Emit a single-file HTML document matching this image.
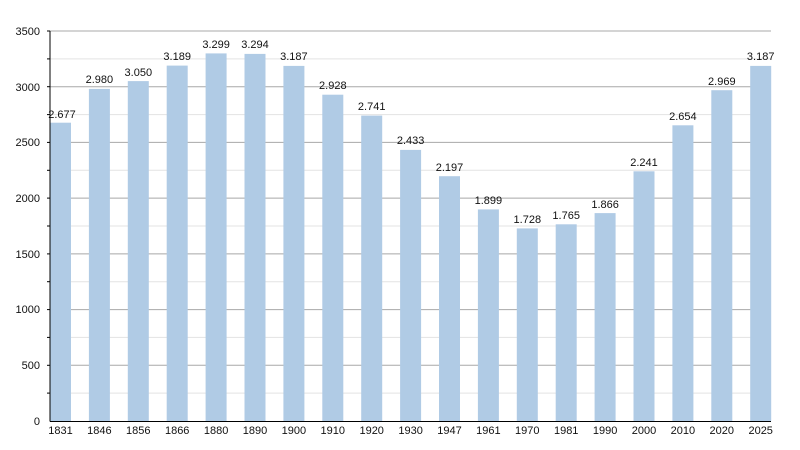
<!DOCTYPE html><html><head><meta charset="utf-8"><style>body{margin:0;background:#fff}svg{display:block}text{font-family:"Liberation Sans",sans-serif;font-size:11px;fill:#111}</style></head><body>
<svg width="800" height="450" viewBox="0 0 800 450">
<g stroke="#e3e3e3" stroke-width="1">
<line x1="50" x2="771" y1="393.1" y2="393.1"/><line x1="50" x2="771" y1="337.4" y2="337.4"/><line x1="50" x2="771" y1="281.7" y2="281.7"/><line x1="50" x2="771" y1="226" y2="226"/><line x1="50" x2="771" y1="170.3" y2="170.3"/><line x1="50" x2="771" y1="114.6" y2="114.6"/><line x1="50" x2="771" y1="58.9" y2="58.9"/>
</g>
<g stroke="#a8a8a8" stroke-width="1">
<line x1="50" x2="771" y1="365.3" y2="365.3"/><line x1="50" x2="771" y1="309.6" y2="309.6"/><line x1="50" x2="771" y1="253.9" y2="253.9"/><line x1="50" x2="771" y1="198.1" y2="198.1"/><line x1="50" x2="771" y1="142.4" y2="142.4"/><line x1="50" x2="771" y1="86.7" y2="86.7"/><line x1="50" x2="771" y1="31" y2="31"/>
</g>
<g fill="#b0cbe5">
<rect x="50" y="122.7" width="21" height="298.3"/>
<rect x="88.9" y="88.9" width="21" height="332.1"/>
<rect x="127.8" y="81.1" width="21" height="339.9"/>
<rect x="166.7" y="65.6" width="21" height="355.4"/>
<rect x="205.6" y="53.4" width="21" height="367.6"/>
<rect x="244.5" y="53.9" width="21" height="367.1"/>
<rect x="283.4" y="65.9" width="21" height="355.1"/>
<rect x="322.3" y="94.7" width="21" height="326.3"/>
<rect x="361.2" y="115.6" width="21" height="305.4"/>
<rect x="400.1" y="149.9" width="21" height="271.1"/>
<rect x="439" y="176.2" width="21" height="244.8"/>
<rect x="477.9" y="209.4" width="21" height="211.6"/>
<rect x="516.8" y="228.4" width="21" height="192.6"/>
<rect x="555.7" y="224.3" width="21" height="196.7"/>
<rect x="594.6" y="213.1" width="21" height="207.9"/>
<rect x="633.5" y="171.3" width="21" height="249.7"/>
<rect x="672.4" y="125.3" width="21" height="295.7"/>
<rect x="711.3" y="90.2" width="21" height="330.8"/>
<rect x="750.2" y="65.9" width="21" height="355.1"/>
</g>
<g text-anchor="middle">
<text x="62" y="118">2.677</text><text x="99.4" y="83">2.980</text><text x="138.3" y="76">3.050</text><text x="177.2" y="60">3.189</text><text x="216.1" y="48">3.299</text><text x="255" y="48">3.294</text><text x="293.9" y="60">3.187</text><text x="332.8" y="89">2.928</text><text x="371.7" y="110">2.741</text><text x="410.6" y="144">2.433</text><text x="449.5" y="171">2.197</text><text x="488.4" y="204">1.899</text><text x="527.3" y="223">1.728</text><text x="566.2" y="219">1.765</text><text x="605.1" y="208">1.866</text><text x="644" y="166">2.241</text><text x="682.9" y="120">2.654</text><text x="721.8" y="85">2.969</text><text x="760.7" y="60">3.187</text>
</g>
<g text-anchor="middle">
<text x="60.5" y="434">1831</text><text x="99.4" y="434">1846</text><text x="138.3" y="434">1856</text><text x="177.2" y="434">1866</text><text x="216.1" y="434">1880</text><text x="255" y="434">1890</text><text x="293.9" y="434">1900</text><text x="332.8" y="434">1910</text><text x="371.7" y="434">1920</text><text x="410.6" y="434">1930</text><text x="449.5" y="434">1947</text><text x="488.4" y="434">1961</text><text x="527.3" y="434">1970</text><text x="566.2" y="434">1981</text><text x="605.1" y="434">1990</text><text x="644" y="434">2000</text><text x="682.9" y="434">2010</text><text x="721.8" y="434">2020</text><text x="760.7" y="434">2025</text>
</g>
<g text-anchor="end">
<text x="40" y="425">0</text><text x="40" y="369">500</text><text x="40" y="313">1000</text><text x="40" y="258">1500</text><text x="40" y="202">2000</text><text x="40" y="146">2500</text><text x="40" y="91">3000</text><text x="40" y="35">3500</text>
</g>
<g stroke="#000" stroke-width="1">
<line x1="50" x2="50" y1="31" y2="421.5"/><line x1="50" x2="771" y1="421.5" y2="421.5"/>
<line x1="47" x2="50" y1="393.1" y2="393.1"/><line x1="47" x2="50" y1="365.3" y2="365.3"/><line x1="47" x2="50" y1="337.4" y2="337.4"/><line x1="47" x2="50" y1="309.6" y2="309.6"/><line x1="47" x2="50" y1="281.7" y2="281.7"/><line x1="47" x2="50" y1="253.9" y2="253.9"/><line x1="47" x2="50" y1="226" y2="226"/><line x1="47" x2="50" y1="198.1" y2="198.1"/><line x1="47" x2="50" y1="170.3" y2="170.3"/><line x1="47" x2="50" y1="142.4" y2="142.4"/><line x1="47" x2="50" y1="114.6" y2="114.6"/><line x1="47" x2="50" y1="86.7" y2="86.7"/><line x1="47" x2="50" y1="58.9" y2="58.9"/><line x1="47" x2="50" y1="31" y2="31"/>
</g>
</svg></body></html>
